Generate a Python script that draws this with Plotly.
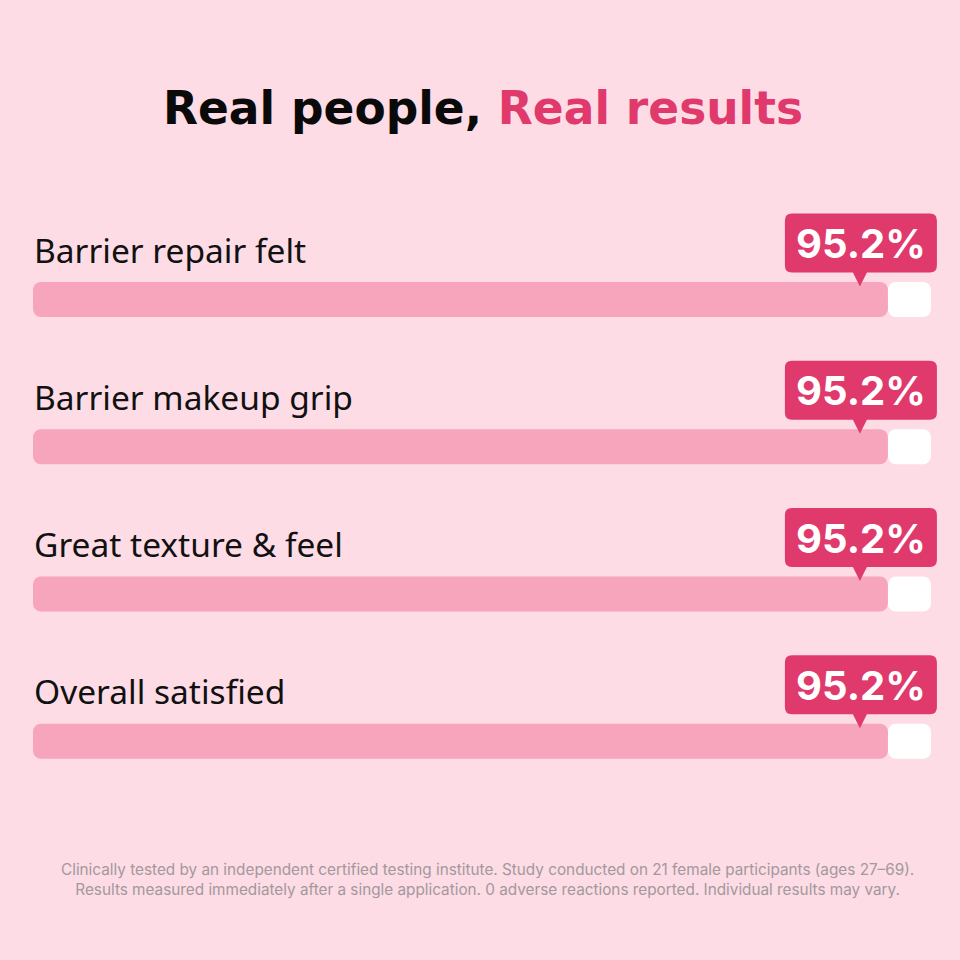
import plotly.graph_objects as go

# ---- data ----
categories = ["Barrier repair felt", "Barrier makeup grip", "Great texture & feel", "Overall satisfied"]
values = [95.2, 95.2, 95.2, 95.2]
value_labels = ["95.2%", "95.2%", "95.2%", "95.2%"]
title_black = "Real people, "
title_pink = "Real results"
footnote = ["Clinically tested by an independent certified testing institute. Study conducted on 21 female participants (ages 27–69).",
            "Results measured immediately after a single application. 0 adverse reactions reported. Individual results may vary."]

# ---- styles ----
BG = "#FDDCE6"
FILL = "#F7A4BD"
TRACK = "#FFFFFF"
ACCENT = "#E0396C"
W, H = 960, 960
ROW_PX = 147.25
FIRST_CENTER = 299.5
ML, MR, MT, MB = 33, 12, 190, 145
PX_PER_UNIT = 8.98            # 100 % spans 898 px
X_MAX = (W - ML - MR) / PX_PER_UNIT
plot_h = H - MT - MB
Y_TOP = -(FIRST_CENTER - MT) / ROW_PX
Y_BOT = Y_TOP + plot_h / ROW_PX

ypos = list(range(len(categories)))
bar_w = 35 / ROW_PX

fig = go.Figure()
# white track (rounded right end), from value to 100
fig.add_trace(go.Bar(
    y=ypos, x=[100 - v for v in values], base=values, orientation="h",
    width=bar_w, marker=dict(color=TRACK, cornerradius=8, line=dict(width=0)),
    hoverinfo="skip", showlegend=False))
# pink fill drawn leftwards from value to 0 (rounded left end)
fig.add_trace(go.Bar(
    y=ypos, x=[-v for v in values], base=values, orientation="h",
    width=bar_w, marker=dict(color=FILL, cornerradius=8, line=dict(width=0)),
    hoverinfo="skip", showlegend=False))

shapes = []
annotations = []
for i, (cat, v, lab) in enumerate(zip(categories, values, value_labels)):
    annotations.append(dict(
        x=0, y=i, xref="x", yref="y", text=cat, showarrow=False,
        xanchor="left", yanchor="middle", xshift=-1, yshift=50,
        font=dict(family="Noto Sans, sans-serif", size=33.5, color="#111111")))
    # callout bubble (pixel-sized, anchored at bar end)
    path = ("M -96 86 L 42 86 Q 49 86 49 79 L 49 34 Q 49 27 42 27 "
            "L -21 27 L -28 13 L -35 27 L -96 27 Q -103 27 -103 34 "
            "L -103 79 Q -103 86 -96 86 Z")
    shapes.append(dict(
        type="path", xref="x", yref="y", xsizemode="pixel", ysizemode="pixel",
        xanchor=v, yanchor=i, path=path, fillcolor=ACCENT,
        line=dict(width=0), layer="above"))
    annotations.append(dict(
        x=v, y=i, xref="x", yref="y", text="<b>" + lab + "</b>", showarrow=False,
        xanchor="center", yanchor="middle", xshift=-27, yshift=56,
        font=dict(family="Inter, sans-serif", size=40, color="#FFFFFF")))

def paper_y(px):
    return (H - MB - px) / plot_h

annotations.append(dict(
    x=(487 - ML) / (W - ML - MR), y=paper_y(879), xref="paper", yref="paper", showarrow=False,
    text="<br>".join(footnote), align="center", xanchor="center", yanchor="middle",
    font=dict(family="Inter, sans-serif", size=15.3, color="#A3989C")))

fig.update_layout(
    width=W, height=H,
    margin=dict(l=ML, r=MR, t=MT, b=MB),
    paper_bgcolor=BG, plot_bgcolor=BG,
    barmode="overlay",
    title=dict(
        text="<b>" + title_black + "<span style='color:%s'>" % ACCENT + title_pink + "</span></b>",
        x=483 / W, xref="container", xanchor="center",
        y=1 - 108 / H, yref="container", yanchor="middle",
        font=dict(family="DejaVu Sans, sans-serif", size=45.5, color="#0A0A0A")),
    xaxis=dict(range=[0, X_MAX], visible=False, fixedrange=True),
    yaxis=dict(range=[Y_BOT, Y_TOP], visible=False, fixedrange=True),
    shapes=shapes, annotations=annotations,
)

fig.write_html("out.html")
